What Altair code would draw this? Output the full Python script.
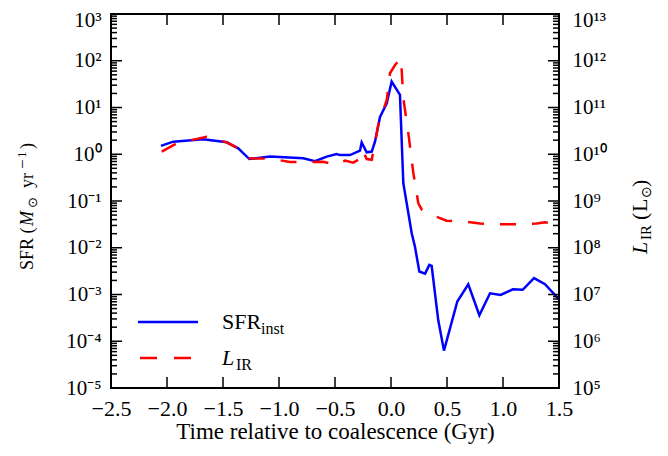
import math
import altair as alt
import pandas as pd

# ---------------- data ----------------
time_sfr = [-2.054, -1.944, -1.676, -1.467, -1.364, -1.265, -1.080, -0.783, -0.679,
            -0.574, -0.485, -0.455, -0.366, -0.277, -0.262, -0.217, -0.172, -0.143,
            -0.098, -0.038, 0.006, 0.080, 0.110, 0.185, 0.214, 0.253, 0.304, 0.342,
            0.363, 0.422, 0.473, 0.592, 0.690, 0.789, 0.884, 0.979, 1.087, 1.176,
            1.277, 1.375, 1.500]
sfr_inst = [1.51, 1.86, 2.09, 1.80, 1.34, 0.79, 0.89, 0.82, 0.71,
            0.89, 1.01, 0.96, 0.96, 1.19, 1.78, 1.10, 1.14, 1.86,
            6.3, 12.3, 36.0, 18.6, 0.24, 0.0204, 0.0105, 0.0031, 0.0028, 0.0043,
            0.0041, 0.00028, 0.000063, 0.00071, 0.00166, 0.00036, 0.00106, 0.00098,
            0.00129, 0.00126, 0.00224, 0.00166, 0.00079]

time_lir = [-2.047, -1.913, -1.646, -1.467, -1.348, -1.265, -1.065, -0.902, -0.604,
            -0.485, -0.411, -0.337, -0.292, -0.253, -0.217, -0.172, -0.113, -0.069,
            -0.038, -0.009, 0.036, 0.089, 0.110, 0.155, 0.200, 0.244, 0.274, 0.408,
            0.497, 0.676, 0.795, 0.973, 1.122, 1.300, 1.375, 1.450]
l_ir = [1.14e10, 1.71e10, 2.37e10, 1.80e10, 1.28e10, 8.2e9, 8.0e9, 6.8e9, 6.9e9,
        5.9e9, 7.3e9, 6.6e9, 7.6e9, 1.23e10, 7.9e9, 7.6e9, 4.3e10, 8.8e10,
        1.45e11, 5.4e11, 8.1e11, 1.15e12, 1.58e11, 2.8e10, 3.9e9, 8.9e8, 6.6e8, 4.6e8,
        3.8e8, 3.6e8, 3.3e8, 3.2e8, 3.2e8, 3.3e8, 3.5e8, 3.3e8]

x_ticks = [-2.5, -2.0, -1.5, -1.0, -0.5, 0.0, 0.5, 1.0, 1.5]
sfr_decades = [1e-5, 1e-4, 1e-3, 1e-2, 1e-1, 1e0, 1e1, 1e2, 1e3]
lir_decades = [1e5, 1e6, 1e7, 1e8, 1e9, 1e10, 1e11, 1e12, 1e13]
sfr_minor = [k * 10.0 ** e for e in range(-5, 3) for k in range(2, 10)]

# ---------------- style ----------------
W, H = 448, 374
FONT = "Liberation Serif"
BLUE = "#0000ff"
RED = "#ff0000"
MAJ, MIN = 11, 6

SUP = str.maketrans("-0123456789", "⁻⁰¹²³⁴⁵⁶⁷⁸⁹")


def decade_label_expr(decades):
    labs = ["10" + str(int(round(math.log10(v)))).translate(SUP) for v in decades]
    expr = ""
    for v, lab in zip(decades[:-1], labs[:-1]):
        expr += f"datum.value < {v * 3:g} ? '{lab}' : "
    expr += f"'{labs[-1]}'"
    return expr


df_sfr = pd.DataFrame({"t": time_sfr, "sfr": sfr_inst})
df_lir = pd.DataFrame({"t": time_lir, "lir": l_ir})
df_major = pd.DataFrame({"v": sfr_decades})
df_minor = pd.DataFrame({"v": sfr_minor})
df_xt = pd.DataFrame({"v": x_ticks})
dummy = pd.DataFrame({"k": [0]})

x_scale = alt.Scale(domain=[-2.5, 1.5], nice=False, zero=False)
yl_scale = alt.Scale(type="log", domain=[1e-5, 1e3], nice=False)
yr_scale = alt.Scale(type="log", domain=[1e5, 1e13], nice=False)

x_axis = alt.Axis(values=x_ticks, format=".1f", title="Time relative to coalescence (Gyr)",
                  ticks=False, domain=False, grid=False, labelFont=FONT, labelFontSize=22,
                  labelColor="black", labelPadding=10, labelFlush=False, titleFont=FONT,
                  titleFontSize=23, titleFontWeight="normal", titleColor="black",
                  titlePadding=1)
yl_axis = alt.Axis(values=sfr_decades, labelExpr=decade_label_expr(sfr_decades), title=None,
                   ticks=False, domain=False, grid=False, labelFont=FONT, labelFontSize=21,
                   labelColor="black", labelPadding=10, orient="left", labelFlush=False,
                   labelOffset={"condition": {"test": "datum.value > 500", "value": 6}, "value": 0})
yr_axis = alt.Axis(values=lir_decades, labelExpr=decade_label_expr(lir_decades), title=None,
                   ticks=False, domain=False, grid=False, labelFont=FONT, labelFontSize=21,
                   labelColor="black", labelPadding=13, orient="right", labelFlush=False,
                   labelOffset={"condition": {"test": "datum.value > 5e12", "value": 6}, "value": 0})

blue = alt.Chart(df_sfr).mark_line(color=BLUE, strokeWidth=2.5, clip=True).encode(
    x=alt.X("t:Q", scale=x_scale, axis=x_axis),
    y=alt.Y("sfr:Q", scale=yl_scale, axis=yl_axis),
)

red = alt.Chart(df_lir).mark_line(color=RED, strokeWidth=2.5, strokeDash=[16, 16], clip=True).encode(
    x=alt.X("t:Q", scale=x_scale, axis=x_axis),
    y=alt.Y("lir:Q", scale=yr_scale, axis=yr_axis),
)


def yticks(df, x0, x1):
    return alt.Chart(df).mark_rule(color="black", strokeWidth=1.5).encode(
        y=alt.Y("v:Q", scale=yl_scale, axis=yl_axis), x=alt.value(x0), x2=alt.value(x1))


def xticks(y0, y1):
    return alt.Chart(df_xt).mark_rule(color="black", strokeWidth=1.5).encode(
        x=alt.X("v:Q", scale=x_scale, axis=x_axis), y=alt.value(y0), y2=alt.value(y1))


tick_layers = [
    yticks(df_major, 0, MAJ), yticks(df_minor, 0, MIN),
    yticks(df_major, W, W - MAJ), yticks(df_minor, W, W - MIN),
    xticks(H, H - MAJ), xticks(0, MAJ),
]


def txt(text, x, y, size, style="normal", angle=0, dx=0, dy=0, align="left"):
    kw = dict(font=FONT, fontSize=size, fontStyle=style, color="black", align=align,
              baseline="alphabetic", dx=dx, dy=dy)
    if angle:
        kw["angle"] = angle
    return alt.Chart(dummy).mark_text(**kw).encode(
        x=alt.value(x), y=alt.value(y), text=alt.value(text))


# legend
legend_layers = [
    alt.Chart(dummy).mark_rule(color=BLUE, strokeWidth=2.5).encode(
        x=alt.value(27), x2=alt.value(87), y=alt.value(308)),
    alt.Chart(dummy).mark_rule(color=RED, strokeWidth=2.5, strokeDash=[17, 17]).encode(
        x=alt.value(29), x2=alt.value(81), y=alt.value(344)),
    txt("SFR", 111, 315, 22),
    txt("inst", 150, 320, 16),
    txt("L", 111, 351, 22, style="italic"),
    txt("IR", 125, 356, 16),
]

# left (rotated) title: SFR (M_sun yr^-1)
LX, LY = -78, 256
left_title = [
    txt("SFR (", LX, LY, 18, angle=270, dx=0),
    txt("M", LX, LY, 18, style="italic", angle=270, dx=44),
    txt("⊙", LX, LY, 13, angle=270, dx=62, dy=4),
    txt("yr", LX, LY, 18, angle=270, dx=82),
    txt("−", LX, LY, 17, angle=270, dx=101, dy=-5),
    txt("1", LX, LY, 13, angle=270, dx=112, dy=-7),
    txt(")", LX, LY, 18, angle=270, dx=121),
]

# right (rotated) title: L_IR (L_sun)
RX, RY = W + 88, 240
right_title = [
    txt("L", RX, RY, 22, style="italic", angle=270, dx=0),
    txt("IR", RX, RY, 15, angle=270, dx=14, dy=4),
    txt("(", RX, RY, 22, angle=270, dx=34),
    txt("L", RX, RY, 22, angle=270, dx=42),
    txt("⊙", RX, RY, 14, angle=270, dx=56, dy=4),
    txt(")", RX, RY, 22, angle=270, dx=67),
]

left = alt.layer(blue, *tick_layers, *legend_layers, *left_title, *right_title)
chart = alt.layer(left, red).resolve_scale(y="independent").properties(
    width=W, height=H,
    autosize=alt.AutoSizeParams(type="none"),
    padding={"left": 103, "top": 6, "right": 100, "bottom": 58},
).configure_view(stroke="black", strokeWidth=2)

chart.save("out.html", embed_options={"renderer": "svg", "actions": False})
